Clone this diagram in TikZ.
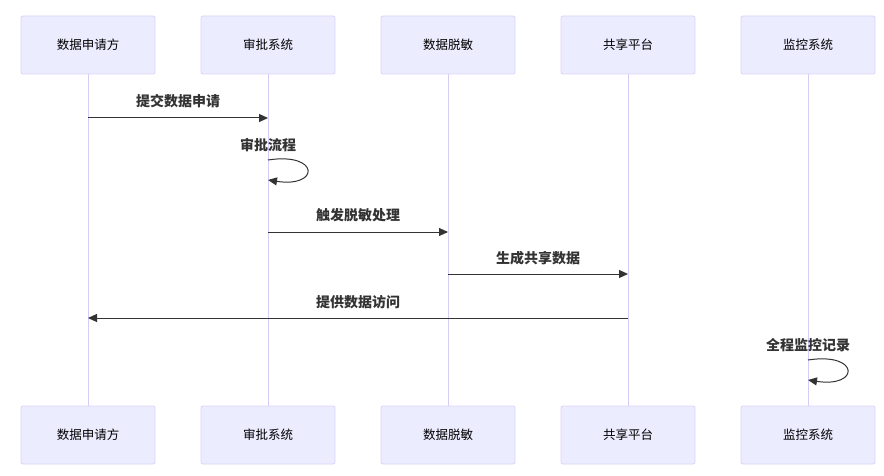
\documentclass[tikz,border=0pt]{standalone}
\usepackage{fontspec}
\setmainfont{Noto Sans CJK SC}
\usepackage{tikz}
\usetikzlibrary{arrows.meta, positioning, calc}

\definecolor{actfill}{HTML}{ECECFF}
\definecolor{actline}{HTML}{DCD3F7}
\definecolor{lifeline}{HTML}{D6CCF5}
\definecolor{msgcol}{HTML}{333333}

\tikzset{
  actor/.style={draw=actline, fill=actfill, rounded corners=2pt, line width=0.8pt,
    minimum width=134pt, minimum height=58pt, inner sep=0pt,
    font=\fontsize{12.5}{14}\selectfont, text=black},
  life/.style={draw=lifeline, line width=1pt},
  msg/.style={draw=msgcol, line width=1pt, -{Triangle[length=9pt, width=8pt]}},
  msglabel/.style={font=\fontsize{14}{16}\selectfont\bfseries, text=msgcol}
}

\begin{document}
\begin{tikzpicture}[x=1pt, y=-1pt]

\useasboundingbox (0,0) rectangle (884,476);

% Participants (top and bottom)
\foreach \i/\px/\txt in {1/88/数据申请方, 2/268/审批系统, 3/448/数据脱敏, 4/628/共享平台, 5/808/监控系统} {
  \node[actor] (top\i) at (\px,45) {\txt};
  \node[actor] (bot\i) at (\px,435) {\txt};
}

% Lifelines
\foreach \i in {1,...,5}
  \draw[life] (top\i.south) -- (bot\i.north);

% Messages
\draw[msg] (top1 |- 0,118) -- (top2 |- 0,118);
\node[msglabel] (l1) at (178,101) {提交数据申请};

\draw[msg] (top2 |- 0,160) .. controls (320,152) and (320,188) .. (top2 |- 0,180);
\node[msglabel] (l2) at (268,145) {审批流程};

\draw[msg] (top2 |- 0,232) -- (top3 |- 0,232);
\node[msglabel] (l3) at (358,215) {触发脱敏处理};

\draw[msg] (top3 |- 0,274) -- (top4 |- 0,274);
\node[msglabel] (l4) at (538,258) {生成共享数据};

\draw[msg] (top4 |- 0,318) -- (top1 |- 0,318);
\node[msglabel] (l5) at (358,302) {提供数据访问};

\draw[msg] (top5 |- 0,360) .. controls (860,352) and (860,388) .. (top5 |- 0,380);
\node[msglabel] (l6) at (808,345) {全程监控记录};

\end{tikzpicture}
\end{document}
